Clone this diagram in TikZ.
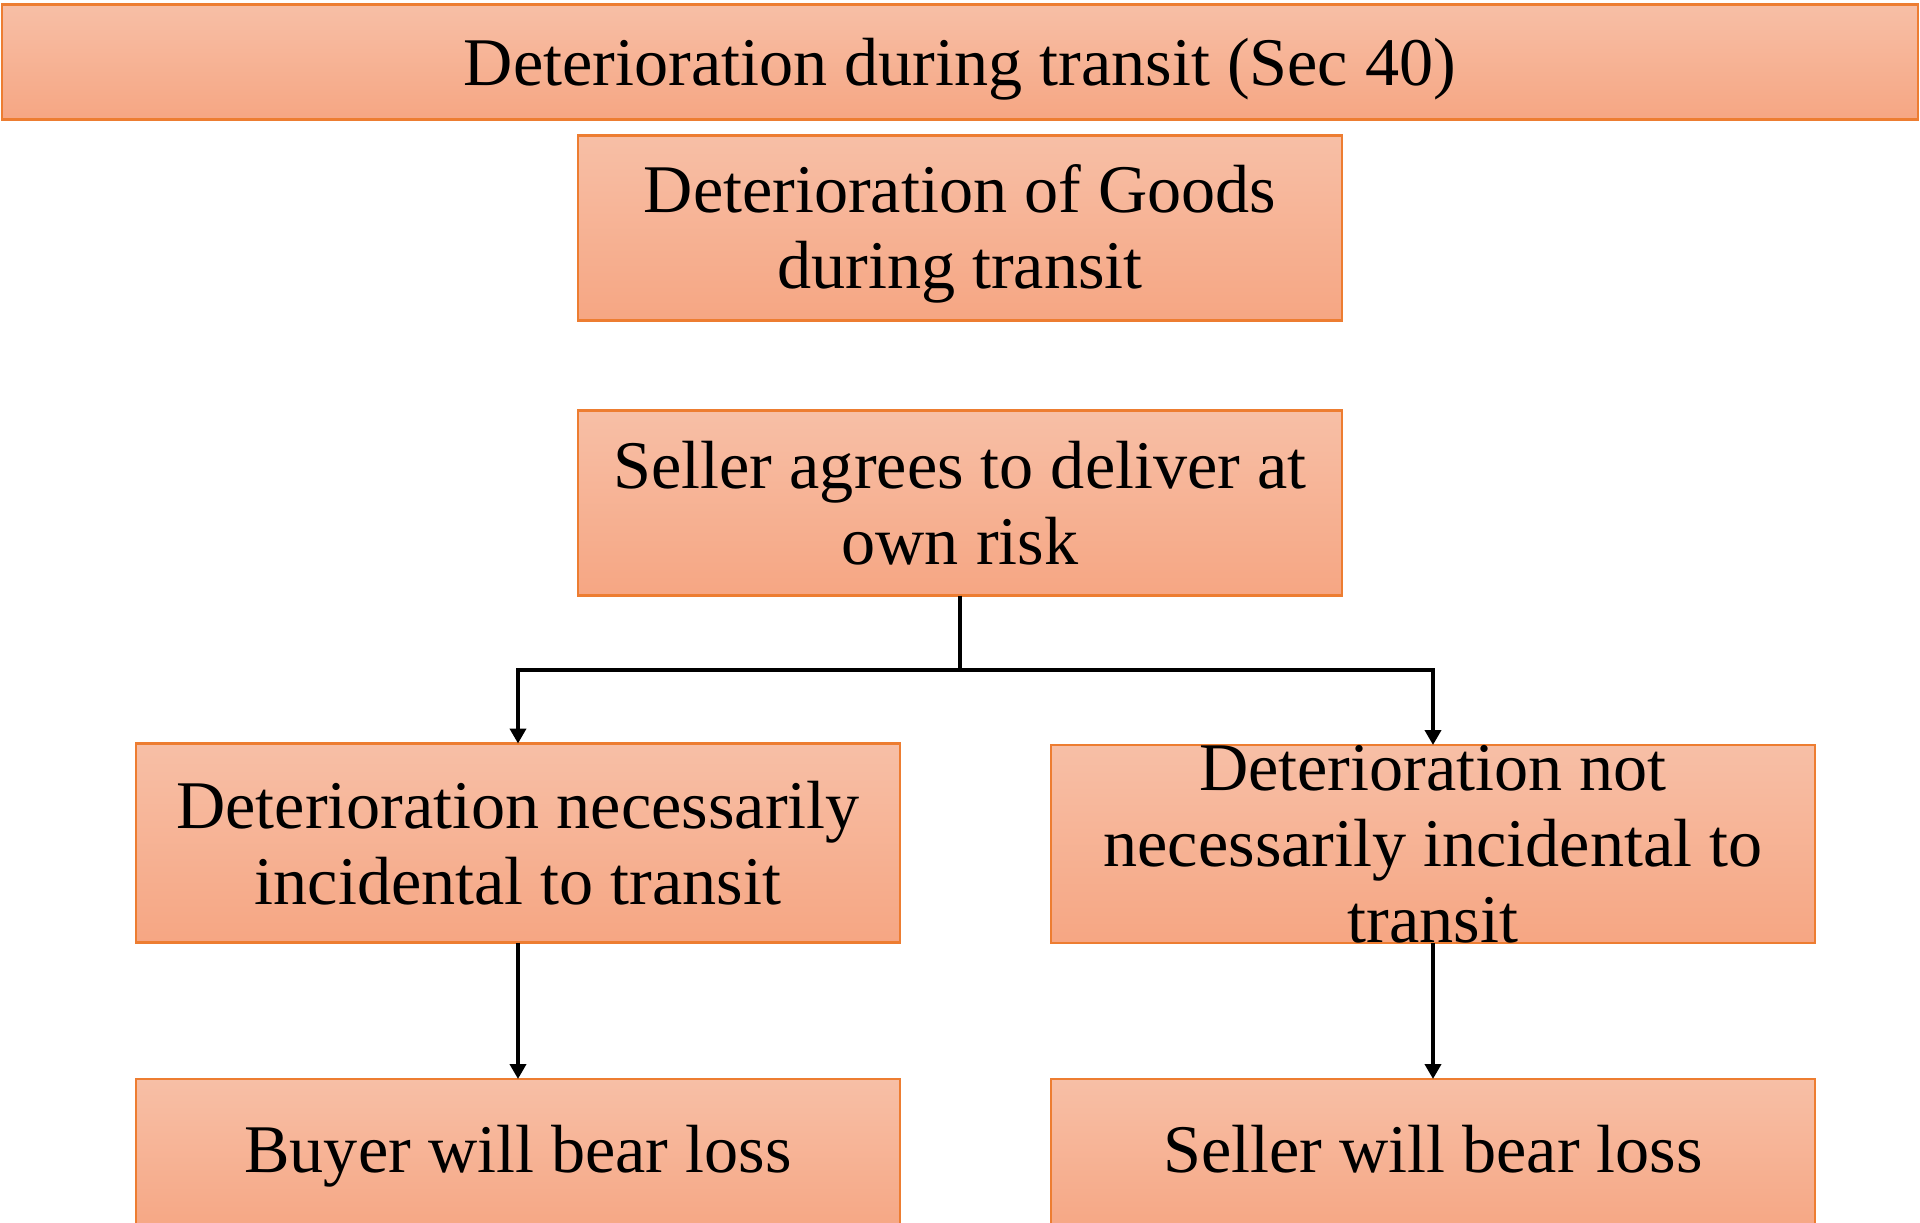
\documentclass[tikz,border=0pt]{standalone}
\usepackage{fontspec}
\setmainfont{Liberation Serif}
\usetikzlibrary{arrows.meta}
\definecolor{boxtop}{RGB}{247,191,166}
\definecolor{boxbottom}{RGB}{246,166,131}
\definecolor{boxline}{RGB}{237,125,49}
\begin{document}
\begin{tikzpicture}[x=0.1mm, y=-0.1mm, outer sep=0pt]
  \tikzstyle{box}=[
    draw=boxline,
    line width=0.6pt,
    rectangle,
    top color=boxtop,
    bottom color=boxbottom,
    minimum width=76.4mm,
    minimum height=18.5mm,
    inner sep=0pt,
    align=center,
    anchor=center,
    font=\fontsize{19.4}{21.6}\selectfont
  ]
  \tikzstyle{oneline}=[text height=13.3pt, text depth=4.3pt]
  \tikzstyle{arrow} = [line width=1.1pt, -{Triangle[length=1.5mm, width=1.6mm]}, draw=black]

  \useasboundingbox (0,0) rectangle (1920,1222);
  \clip (0,0) rectangle (1920,1222);

  \node[box, minimum width=191.6mm, minimum height=11.5mm, text height=15pt, text depth=1.6pt] (title) at (960,62) {Deterioration during transit (Sec 40)};

  \node[box, text depth=0.8pt] (goods) at (960,228) {Deterioration of Goods\\during transit};
  \node[box] (seller) at (960,503) {Seller agrees to deliver at\\own risk};

  \node[box, minimum height=19.9mm] (incidental) at (518,843) {Deterioration necessarily\\incidental to transit};
  \node[box, minimum height=19.8mm] (notincidental) at (1433,844) {Deterioration not\\necessarily incidental to\\transit};

  \node[box, oneline, minimum height=15.6mm] (buyerloss) at (518,1157) {Buyer will bear loss};
  \node[box, oneline, minimum height=15.6mm] (sellerloss) at (1433,1157) {Seller will bear loss};

  \coordinate (split) at (960,670);
  \draw[line width=1.1pt] (seller.south) -- (split);
  \draw[arrow] (split) -| (incidental.north);
  \draw[arrow] (split) -| (notincidental.north);
  \draw[arrow] (incidental.south) -- (buyerloss.north);
  \draw[arrow] (notincidental.south) -- (sellerloss.north);
\end{tikzpicture}
\end{document}
